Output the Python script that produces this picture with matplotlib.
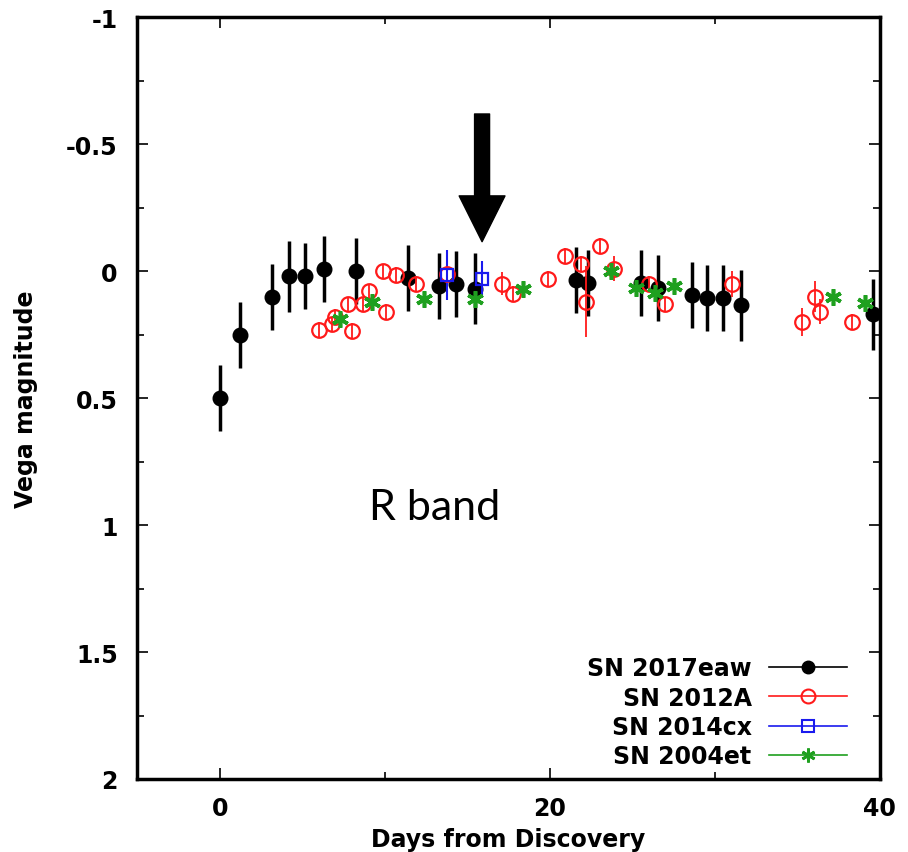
import matplotlib
matplotlib.use("Agg")
import matplotlib.pyplot as plt
from matplotlib.lines import Line2D
from matplotlib.ticker import FixedLocator, FuncFormatter

plt.rcParams['font.family'] = ['DejaVu Sans']

# SN 2017eaw
x_17eaw = [0.05, 1.25, 3.2, 4.2, 5.2, 6.3, 8.25, 11.4, 13.3, 14.3, 15.45,
           21.6, 22.3, 25.55, 26.55, 28.6, 29.5, 30.5, 31.6, 39.6]
y_17eaw = [0.50, 0.25, 0.10, 0.02, 0.02, -0.01, 0.00, 0.025, 0.06, 0.05, 0.07,
           0.035, 0.045, 0.045, 0.065, 0.095, 0.105, 0.105, 0.135, 0.17]
e_17eaw = [0.13, 0.13, 0.13, 0.14, 0.13, 0.13, 0.13, 0.13, 0.13, 0.13, 0.14,
           0.13, 0.13, 0.13, 0.13, 0.13, 0.13, 0.13, 0.14, 0.14]

# SN 2012A
x_12A = [6.05, 6.8, 7.0, 7.8, 8.0, 8.7, 9.05, 9.9, 10.1, 10.7, 11.9, 13.8,
         17.1, 17.8, 19.9, 20.9, 21.9, 22.2, 23.05, 23.9, 26.0, 27.0, 31.05,
         35.3, 36.05, 36.35, 38.3]
y_12A = [0.23, 0.21, 0.18, 0.13, 0.235, 0.13, 0.08, 0.0, 0.16, 0.015, 0.05, 0.01,
         0.05, 0.09, 0.03, -0.06, -0.03, 0.12, -0.10, -0.01, 0.05, 0.13, 0.05,
         0.20, 0.10, 0.16, 0.20]
e_12A = [0.03, 0.03, 0.03, 0.03, 0.03, 0.03, 0.03, 0.03, 0.03, 0.03, 0.03, 0.03,
         0.045, 0.03, 0.03, 0.03, 0.03, 0.14, 0.03, 0.05, 0.03, 0.03, 0.05,
         0.055, 0.06, 0.05, 0.03]

# SN 2014cx
x_14cx = [13.8, 15.9]
y_14cx = [0.015, 0.03]
e_14cx = [0.10, 0.07]

# SN 2004et
x_04et = [7.3, 9.25, 12.4, 15.45, 18.35, 23.7, 25.2, 26.4, 27.55, 37.15, 39.1]
y_04et = [0.19, 0.12, 0.11, 0.11, 0.07, 0.0, 0.065, 0.085, 0.06, 0.10, 0.125]

labels = ["SN 2017eaw", "SN 2012A", "SN 2014cx", "SN 2004et"]
red = "#ff1a1a"
blue = "#1a1aee"
green = "#1fa01f"
star = (6, 2, 0)

fig = plt.figure(figsize=(9.08, 8.53), dpi=100)
ax = fig.add_axes([0.151, 0.0856, 0.818, 0.893])

ax.errorbar(x_17eaw, y_17eaw, yerr=e_17eaw, fmt='o', color='black',
            ms=10.5, elinewidth=2.5, capsize=0, zorder=3)
ax.errorbar(x_12A, y_12A, yerr=e_12A, fmt='o', color=red, mfc='none',
            mec=red, mew=1.6, ms=10.5, elinewidth=1.3, capsize=0, zorder=4)
ax.errorbar(x_14cx, y_14cx, yerr=e_14cx, fmt='s', color=blue, mfc='none',
            mec=blue, mew=1.6, ms=9, elinewidth=1.5, capsize=0, zorder=4)
ax.plot(x_04et, y_04et, ls='none', marker=star, color=green, ms=12,
        mew=2.6, zorder=5)

# arrow marking day ~16
ax.annotate("", xy=(15.9, -0.105), xytext=(15.9, -0.63),
            arrowprops=dict(arrowstyle='simple,head_length=1.1,head_width=1.1,tail_width=0.36',
                            fc='black', ec='black', mutation_scale=30),
            annotation_clip=False)

ax.text(13.0, 0.93, "R band", fontsize=31, family=['Lato', 'DejaVu Sans'],
        ha='center', va='center')

ax.set_xlim(-5, 40)
ax.set_ylim(2, -1)
ax.xaxis.set_major_locator(FixedLocator([0, 20, 40]))
ax.xaxis.set_minor_locator(FixedLocator([10, 30]))
ax.yaxis.set_major_locator(FixedLocator([-1, -0.5, 0, 0.5, 1, 1.5, 2]))
ax.yaxis.set_minor_locator(FixedLocator([-0.75, -0.25, 0.25, 0.75, 1.25, 1.75]))
ax.yaxis.set_major_formatter(FuncFormatter(lambda v, p: "%g" % v))

ax.tick_params(which='both', direction='in', top=True, right=True,
               width=1.2, labelsize=17)
ax.tick_params(axis='y', pad=14)
ax.tick_params(axis='x', pad=12)
ax.tick_params(which='major', length=8)
ax.tick_params(which='minor', length=5)
for lab in ax.get_xticklabels() + ax.get_yticklabels():
    lab.set_fontweight('bold')
for sp in ax.spines.values():
    sp.set_linewidth(2.5)

ax.set_xlabel("Days from Discovery", fontsize=17, fontweight='bold', labelpad=5)
ax.set_ylabel("Vega magnitude", fontsize=17, fontweight='bold', labelpad=20)

handles = [
    Line2D([], [], color='black', marker='o', ms=9, lw=1.2),
    Line2D([], [], color=red, marker='o', mfc='none', ms=10, mew=1.5, lw=1.2),
    Line2D([], [], color=blue, marker='s', mfc='none', ms=9, mew=1.5, lw=1.2),
    Line2D([], [], color=green, marker=star, ms=10, mew=2, lw=1.2),
]
leg = ax.legend(handles, labels, loc='lower right', frameon=False,
                bbox_to_anchor=(0.969, 0.002), borderaxespad=0,
                markerfirst=False, handlelength=3.3, handletextpad=0.76,
                labelspacing=0.22, prop={'size': 17, 'weight': 'bold'})
for t in leg.get_texts():
    t.set_ha('right')

fig.savefig("out.png", dpi=100)
